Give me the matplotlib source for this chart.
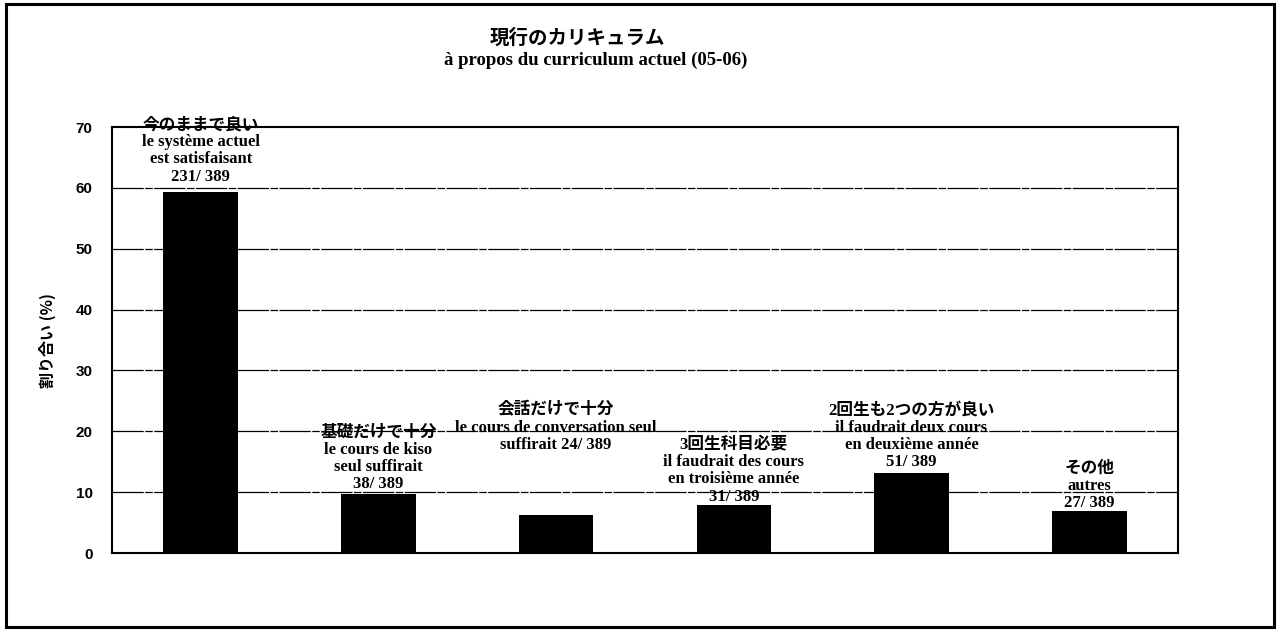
import matplotlib.pyplot as plt
from matplotlib.patches import Rectangle

# survey responses (count out of total respondents)
TOTAL = 389
counts = [231, 38, 24, 31, 51, 27]
labels = [
    "今のままで良い\nle système actuel\nest satisfaisant\n231/ 389",
    "基礎だけで十分\nle cours de kiso\nseul suffirait\n38/ 389",
    "会話だけで十分\nle cours de conversation seul\nsuffirait 24/ 389",
    "3回生科目必要\nil faudrait des cours\nen troisième année\n31/ 389",
    "2回生も2つの方が良い\nil faudrait deux cours\nen deuxième année\n51/ 389",
    "その他\nautres\n27/ 389",
]
label_offsets = [5, 1, 45, 0, 2, 0]  # points above bar top
yticks = [0, 10, 20, 30, 40, 50, 60, 70]

percent = [c / TOTAL * 100 for c in counts]

TXT = ["Liberation Serif", "Noto Sans CJK JP"]
JP = ["Noto Sans CJK JP", "DejaVu Sans"]

fig = plt.figure(figsize=(12.78, 6.31), dpi=100)
ax = fig.add_axes([0.0876, 0.1236, 0.8342, 0.6751])

x = list(range(len(counts)))
ax.bar(x, percent, width=0.42, color="black", zorder=3)

ax.set_xlim(-0.5, len(counts) - 0.5)
ax.set_ylim(0, 70)
ax.set_yticks(yticks)
ax.set_xticks([])
ax.tick_params(axis="y", length=0, pad=14)
for t in ax.get_yticklabels():
    t.set_fontfamily("Liberation Sans")
    t.set_fontweight("bold")
    t.set_fontsize(11)

# gridlines: thin, almost solid
for y in yticks[1:-1]:
    ax.axhline(y, color="black", lw=0.9, ls=(0, (25, 1.2, 6, 1.2)), zorder=1)

for s in ax.spines.values():
    s.set_linewidth(1.5)
    s.set_color("black")

ax.set_ylabel("割り合い (%)", family=JP, fontweight="bold", fontsize=11.5,
              labelpad=14)

for xi, p, lab, off in zip(x, percent, labels, label_offsets):
    ax.annotate(lab, (xi, p), xytext=(0, off), textcoords="offset points",
                ha="center", va="bottom", family=TXT, fontweight="bold",
                fontsize=12, linespacing=1.1, zorder=4, annotation_clip=False)

fig.text(0.452, 0.940, "現行のカリキュラム", ha="center", va="center",
         family=JP, fontweight="bold", fontsize=14)
fig.text(0.466, 0.905, "à propos du curriculum actuel (05-06)", ha="center",
         va="center", family=TXT, fontweight="bold", fontsize=13.5)

# outer frame around the whole chart
fig.patches.append(Rectangle((6 / 1278, 4 / 631), 1268 / 1278, 623 / 631,
                             transform=fig.transFigure, fill=False,
                             edgecolor="black", lw=2.2))

fig.savefig("out.png", dpi=100)
